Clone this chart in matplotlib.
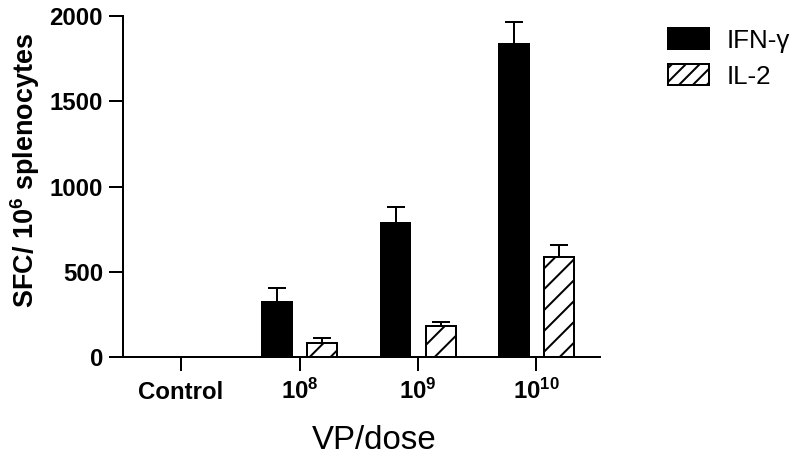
import numpy as np
import matplotlib
matplotlib.use("Agg")
import matplotlib.pyplot as plt
from matplotlib.patches import Patch

# values
doses = ["Control", "$\\mathbf{10^{8}}$", "$\\mathbf{10^{9}}$", "$\\mathbf{10^{10}}$"]
ifn_gamma = [0, 324, 784, 1836]
ifn_err = [0, 79, 97, 129]
il2 = [0, 84, 182, 588]
il2_err = [0, 27, 23, 69]

DPI = 125
PT = 72.0 / DPI  # points per pixel

plt.rcParams['font.family'] = ['Liberation Sans', 'DejaVu Sans']
plt.rcParams['mathtext.fontset'] = 'custom'
plt.rcParams['mathtext.rm'] = 'Liberation Sans'
plt.rcParams['mathtext.bf'] = 'Liberation Sans:bold'
plt.rcParams['hatch.linewidth'] = 2 * PT

fig = plt.figure(figsize=(800 / DPI, 461 / DPI), dpi=DPI)
ax = fig.add_axes([123 / 800, 104 / 461, 477 / 800, 341 / 461])

x = np.arange(len(doses))
width = 0.253
offset = 0.19
lw = 2 * PT

ax.bar(x - offset, ifn_gamma, width, color='black', edgecolor='black', linewidth=lw,
       yerr=[np.zeros(len(ifn_err)), ifn_err],
       error_kw=dict(ecolor='black', elinewidth=lw, capsize=9 * PT, capthick=lw))
ax.bar(x + offset, il2, width, color='white', edgecolor='black', linewidth=lw, hatch='//',
       yerr=[np.zeros(len(il2_err)), il2_err],
       error_kw=dict(ecolor='black', elinewidth=lw, capsize=9 * PT, capthick=lw))

ax.set_xlim(-0.49, 3.536)
ax.set_ylim(0, 2000)
ax.set_yticks([0, 500, 1000, 1500, 2000])
ax.set_xticks(x)
ax.set_xticklabels(doses)

for s in ['top', 'right']:
    ax.spines[s].set_visible(False)
for s in ['left', 'bottom']:
    ax.spines[s].set_linewidth(lw)

ax.tick_params(axis='both', direction='out', length=8, width=lw, labelsize=24 * PT)
ax.tick_params(axis='x', pad=28 * PT)
for lab in ax.get_xticklabels():
    lab.set_verticalalignment('baseline')
for lab in ax.get_xticklabels() + ax.get_yticklabels():
    lab.set_fontweight('bold')

ax.set_ylabel("SFC/ $\\mathbf{10^{6}}$ splenocytes", fontsize=27 * PT, fontweight='bold')
ax.yaxis.set_label_coords(-0.17, 0.548)
ax.set_xlabel("VP/dose", fontsize=33 * PT)
ax.xaxis.set_label_coords(0.526, -0.2)
ax.xaxis.label.set_verticalalignment('top')

handles = [Patch(facecolor='black', edgecolor='black', linewidth=lw),
           Patch(facecolor='white', edgecolor='black', linewidth=lw, hatch='///')]
fig.legend(handles, ["IFN-\u03b3", "IL-2"], loc='upper left', bbox_to_anchor=(658 / 800, 1 - 18 / 461),
           frameon=False, fontsize=26 * PT, handlelength=1.55, handleheight=0.85,
           handletextpad=0.7, labelspacing=0.45, borderaxespad=0)

fig.savefig("out.png", dpi=DPI)
